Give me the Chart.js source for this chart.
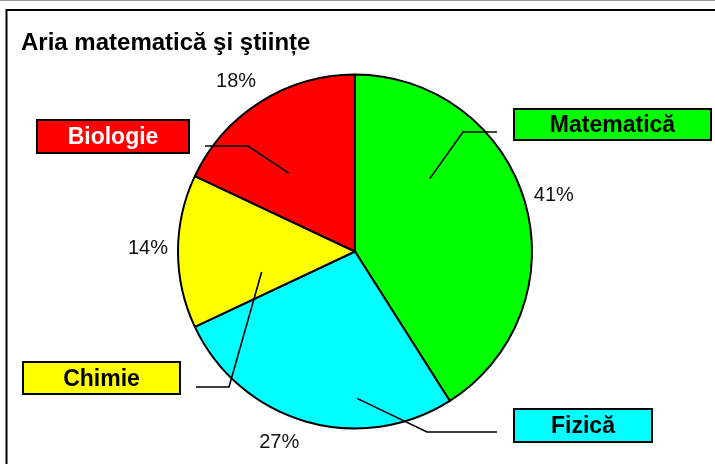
<!DOCTYPE html>
<html>
<head>
<meta charset="utf-8">
<script src="https://cdn.jsdelivr.net/npm/chart.js@4.4.1/dist/chart.umd.min.js"></script>
<style>
  html, body { margin: 0; padding: 0; background: #fff; }
  canvas { display: block; }
</style>
</head>
<body>
<canvas id="c" width="715" height="464"></canvas>
<script>
const chartTitle = 'Aria matematică şi ştiințe';
const categories = ['Matematică', 'Fizică', 'Chimie', 'Biologie'];
const shares = [41, 27, 14, 18];

const sliceColors = ['#00FF00', '#00FFFF', '#FFFF00', '#FF0000'];
const calloutTextColors = ['#000000', '#000000', '#000000', '#FFFFFF'];

const FONT = '"Liberation Sans", Arial, sans-serif';

// Callout boxes [x, y, w, h], leader line: tail (near box) -> elbow -> point inside slice.
// "at" = [fraction along the slice's angle, fraction of the radius]
const callouts = [
  { box: [514, 109, 197, 31], tail: [497, 132], elbow: [463, 132], at: [0.31, 0.59] },
  { box: [514, 409, 138, 33], tail: [497, 432], elbow: [427, 432], at: [0.325, 0.83] },
  { box: [23, 362, 157, 32],  tail: [196, 387], elbow: [229, 387], at: [0.254, 0.54] },
  { box: [37, 120, 152, 33],  tail: [205, 146], elbow: [248, 146], at: [0.38, 0.58] }
];
// small nudges for the percentage labels placed outside the rim
const pctNudge = [[0, 2], [-18, -8], [0, -3], [-8, 5]];

const decorations = {
  id: 'decorations',
  beforeDraw(chart) {
    const ctx = chart.ctx;
    ctx.save();
    ctx.fillStyle = '#fff';
    ctx.fillRect(0, 0, chart.width, chart.height);
    // outer frame
    ctx.strokeStyle = '#9a9a9a';
    ctx.lineWidth = 1;
    ctx.beginPath(); ctx.moveTo(0, 0.5); ctx.lineTo(chart.width, 0.5); ctx.stroke();
    ctx.strokeStyle = '#000';
    ctx.lineWidth = 2;
    ctx.beginPath();
    ctx.moveTo(6.5, chart.height + 2);
    ctx.lineTo(6.5, 10);
    ctx.lineTo(chart.width + 2, 10);
    ctx.stroke();
    // title
    ctx.fillStyle = '#000';
    ctx.font = 'bold 24px ' + FONT;
    ctx.textAlign = 'left';
    ctx.textBaseline = 'alphabetic';
    ctx.fillText(chartTitle, 21, 50);
    ctx.restore();
  },
  afterDatasetsDraw(chart) {
    const ctx = chart.ctx;
    const meta = chart.getDatasetMeta(0);
    const data = chart.data.datasets[0].data;
    const total = data.reduce((a, b) => a + b, 0);
    ctx.save();

    meta.data.forEach((arc, i) => {
      const { x, y, startAngle, endAngle, outerRadius } = arc.getProps(['x', 'y', 'startAngle', 'endAngle', 'outerRadius'], true);

      // percentage label outside the rim
      const mid = (startAngle + endAngle) / 2;
      const d = outerRadius + 30;
      const px = x + Math.cos(mid) * d + pctNudge[i][0];
      const py = y + Math.sin(mid) * d + pctNudge[i][1];
      ctx.fillStyle = '#111';
      ctx.font = '20px ' + FONT;
      ctx.textAlign = 'center';
      ctx.textBaseline = 'middle';
      ctx.fillText(Math.round(data[i] / total * 100) + '%', px, py);

      // leader line
      const c = callouts[i];
      const a = startAngle + (endAngle - startAngle) * c.at[0];
      const ix = x + Math.cos(a) * outerRadius * c.at[1];
      const iy = y + Math.sin(a) * outerRadius * c.at[1];
      ctx.strokeStyle = '#000';
      ctx.lineWidth = 1.6;
      ctx.beginPath();
      ctx.moveTo(c.tail[0], c.tail[1]);
      ctx.lineTo(c.elbow[0], c.elbow[1]);
      ctx.lineTo(ix, iy);
      ctx.stroke();

      // category box
      const [bx, by, bw, bh] = c.box;
      ctx.fillStyle = sliceColors[i];
      ctx.fillRect(bx, by, bw, bh);
      ctx.lineWidth = 2;
      ctx.strokeRect(bx, by, bw, bh);
      ctx.fillStyle = calloutTextColors[i];
      ctx.font = 'bold 23px ' + FONT;
      ctx.textAlign = 'center';
      ctx.textBaseline = 'alphabetic';
      ctx.fillText(chart.data.labels[i], bx + bw / 2, by + bh / 2 + 7.5);
    });
    ctx.restore();
  }
};

new Chart(document.getElementById('c'), {
  type: 'pie',
  data: {
    labels: categories,
    datasets: [{
      data: shares,
      backgroundColor: sliceColors,
      borderColor: '#000',
      borderWidth: 2,
      hoverBorderWidth: 2,
      hoverOffset: 0
    }]
  },
  options: {
    responsive: false,
    animation: false,
    events: [],
    layout: { padding: { top: 73.5, bottom: 34.5, left: 177, right: 182 } },
    plugins: {
      legend: { display: false },
      tooltip: { enabled: false },
      title: { display: false }
    }
  },
  plugins: [decorations]
});
</script>
</body>
</html>
